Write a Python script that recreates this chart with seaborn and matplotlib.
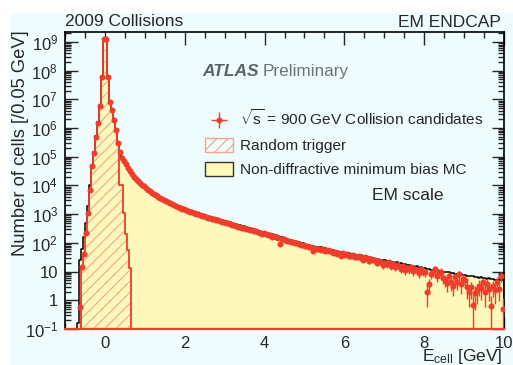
import numpy as np
import pandas as pd
import matplotlib
matplotlib.use("Agg")
import matplotlib.pyplot as plt
import seaborn as sns
from matplotlib.patches import Patch, Rectangle
from matplotlib.ticker import MultipleLocator, LogLocator, FuncFormatter, NullFormatter

nan = np.nan

# binning of all histograms: 0.05 GeV from -1 to 10 GeV
x_min = -1.0
bin_width = 0.05

# log10(number of cells) per bin, one row per GeV (20 bins)
mc_log10 = [
    nan, nan, nan, nan, nan, nan, -0.80, 1.40, 1.80, 2.20, 2.70, 3.30, 4.00, 4.70, 5.15, 5.72, 6.20, 6.80, 7.80, 9.10,
    9.10, 7.82, 6.95, 6.66, 6.30, 5.95, 5.50, 5.20, 4.98, 4.88, 4.77, 4.64, 4.52, 4.42, 4.34, 4.27, 4.20, 4.13, 4.06, 4.00,
    3.94, 3.88, 3.83, 3.78, 3.74, 3.70, 3.65, 3.61, 3.57, 3.53, 3.50, 3.46, 3.43, 3.39, 3.36, 3.33, 3.30, 3.27, 3.24, 3.21,
    3.18, 3.16, 3.13, 3.11, 3.08, 3.06, 3.04, 3.01, 2.99, 2.97, 2.95, 2.93, 2.91, 2.89, 2.87, 2.85, 2.83, 2.81, 2.79, 2.77,
    2.75, 2.73, 2.71, 2.69, 2.67, 2.65, 2.63, 2.61, 2.59, 2.57, 2.55, 2.53, 2.51, 2.49, 2.47, 2.45, 2.43, 2.41, 2.39, 2.37,
    2.35, 2.34, 2.31, 2.30, 2.27, 2.26, 2.23, 2.22, 2.19, 2.18, 2.15, 2.14, 2.11, 2.10, 2.07, 2.06, 2.03, 2.02, 1.99, 1.98,
    1.96, 1.93, 1.93, 1.90, 1.90, 1.87, 1.87, 1.84, 1.84, 1.81, 1.82, 1.78, 1.78, 1.75, 1.76, 1.72, 1.72, 1.69, 1.69, 1.66,
    1.66, 1.63, 1.64, 1.60, 1.61, 1.58, 1.58, 1.55, 1.56, 1.52, 1.53, 1.50, 1.50, 1.47, 1.48, 1.44, 1.45, 1.42, 1.42, 1.39,
    1.39, 1.37, 1.37, 1.34, 1.34, 1.31, 1.32, 1.28, 1.29, 1.25, 1.26, 1.23, 1.23, 1.20, 1.21, 1.17, 1.18, 1.14, 1.15, 1.11,
    1.11, 1.09, 1.10, 1.06, 1.07, 1.04, 1.05, 1.02, 1.02, 0.99, 1.00, 0.97, 0.98, 0.94, 0.95, 0.92, 0.93, 0.90, 0.90, 0.87,
    0.88, 0.85, 0.86, 0.83, 0.84, 0.81, 0.82, 0.79, 0.80, 0.77, 0.78, 0.75, 0.76, 0.73, 0.74, 0.71, 0.72, 0.70, 0.71, 0.69,
]

data_log10 = [
    nan, nan, nan, nan, nan, nan, nan, -0.22, 1.17, 1.60, 2.34, 3.04, 3.84, 4.66, 5.12, 5.70, 6.17, 6.77, 7.79, 9.09,
    9.09, 7.79, 6.92, 6.63, 6.28, 5.93, 5.48, 5.18, 4.96, 4.85, 4.74, 4.61, 4.49, 4.39, 4.31, 4.24, 4.17, 4.10, 4.03, 3.97,
    3.90, 3.84, 3.79, 3.73, 3.70, 3.65, 3.61, 3.56, 3.53, 3.48, 3.46, 3.41, 3.39, 3.35, 3.31, 3.29, 3.25, 3.23, 3.19, 3.17,
    3.13, 3.12, 3.08, 3.06, 3.04, 3.00, 3.00, 2.96, 2.93, 2.93, 2.90, 2.87, 2.86, 2.83, 2.82, 2.79, 2.78, 2.75, 2.74, 2.71,
    2.70, 2.68, 2.67, 2.62, 2.62, 2.60, 2.56, 2.56, 2.52, 2.53, 2.48, 2.48, 2.44, 2.45, 2.40, 2.40, 2.37, 2.36, 2.32, 2.33,
    2.30, 2.27, 2.28, 2.22, 2.24, 2.20, 2.17, 1.95, 2.15, 2.12, 2.10, 2.07, 2.08, 2.03, 2.02, 1.98, 2.00, 1.95, 1.94, 1.92,
    1.90, 1.88, 1.85, 1.87, 1.72, 1.82, 1.80, 1.79, 1.75, 1.78, 1.73, 1.74, 1.70, 1.71, 1.66, 1.68, 1.62, 1.66, 1.55, 1.63,
    1.58, 1.62, 1.53, 1.55, 1.57, 1.50, 1.52, 1.54, 1.48, 1.42, 1.50, 1.46, 1.38, 1.45, 1.42, 1.40, 1.30, 1.38, 1.34, 1.22,
    1.30, 1.25, 1.32, 1.18, 1.28, 1.15, 1.22, 1.20, 1.10, 1.18, 1.05, 1.12, 1.08, 1.15, 1.02, 1.10, 1.06, 0.95, 1.08, 1.00,
    0.98, 0.30, 0.55, 0.92, 0.97, 1.08, 0.85, 0.95, 1.00, 0.78, 0.72, 0.60, 0.85, 0.62, 0.50, 0.80, 0.65, 0.90, 0.55, 0.75,
    0.72, 0.45, 0.30, 0.45, -0.15, 0.25, 0.35, 0.50, 0.42, 0.62, 0.30, 0.55, 0.40, -0.20, 0.48, 0.35, 0.65, 0.40, 0.85, -0.30,
]

# random trigger: only non-empty from -0.6 to 0.65 GeV
rnd_first_edge = -0.6
rnd_log10 = [1.10, 1.60, 2.34, 3.04, 3.84, 4.66, 5.12, 5.70, 6.17, 6.77, 7.79, 9.09,
             9.09, 7.79, 6.92, 6.60, 6.25, 5.88, 5.45, 4.02, 4.02, 3.04, 2.30, 1.75, 1.13]

label_data = r"$\sqrt{\rm s}$ = 900 GeV Collision candidates"
label_rnd = "Random trigger"
label_mc = "Non-diffractive minimum bias MC"

bg = "#effcfd"
mc_yellow = "#fff8bb"
red = "#f03c2a"
hatch_col = "#f5a48e"
gray = "#6d7280"

sns.set_style("ticks")
plt.rcParams["font.family"] = ["Liberation Sans", "DejaVu Sans"]
plt.rcParams["mathtext.fontset"] = "custom"
plt.rcParams["mathtext.rm"] = "Liberation Sans"
plt.rcParams["mathtext.it"] = "Liberation Sans:italic"
plt.rcParams["mathtext.bf"] = "Liberation Sans:bold"
plt.rcParams["hatch.color"] = hatch_col
plt.rcParams["hatch.linewidth"] = 0.8

edges = x_min + bin_width * np.arange(len(mc_log10) + 1)
centers = edges[:-1] + bin_width / 2
mc = np.nan_to_num(10.0 ** np.array(mc_log10), nan=0.0)
data = 10.0 ** np.array(data_log10)
rnd_edges = rnd_first_edge + bin_width * np.arange(len(rnd_log10) + 1)
rnd = 10.0 ** np.array(rnd_log10)

df_mc = pd.DataFrame({"E": centers, "n": mc})
df_rnd = pd.DataFrame({"E": rnd_edges[:-1] + bin_width / 2, "n": rnd})

fig = plt.figure(figsize=(5.13, 3.65), dpi=100)
fig.patch.set_facecolor("white")
fig.patches.append(Rectangle((10 / 513, 0), 1 - 10 / 513, 1 - 13 / 365,
                             transform=fig.transFigure, facecolor=bg, edgecolor="none", zorder=-10))
ax = fig.add_axes([65 / 513, 1 - 329 / 365, (504 - 65) / 513, (329 - 32) / 365])
ax.set_facecolor(bg)
ax.set_yscale("log")

# MC (yellow, black outline)
sns.histplot(data=df_mc, x="E", weights="n", bins=edges.tolist(), element="step", fill=True,
             color=mc_yellow, facecolor=mc_yellow, edgecolor="black", linewidth=1.1, ax=ax, zorder=1)
# random trigger: hatch + red outline
sns.histplot(data=df_rnd, x="E", weights="n", bins=rnd_edges.tolist(), element="step", fill=True,
             color=hatch_col, facecolor="none", edgecolor=hatch_col, hatch="///", linewidth=0, ax=ax, zorder=2)
sns.histplot(data=df_rnd, x="E", weights="n", bins=rnd_edges.tolist(), element="step", fill=True,
             color=red, facecolor="none", edgecolor=red, linewidth=1.3, ax=ax, zorder=3)

# collision data points
ok = ~np.isnan(data)
eb = ax.errorbar(centers[ok], data[ok], xerr=bin_width / 2, yerr=np.sqrt(data[ok]),
                 fmt="o", ms=3.3, color=red, ecolor=red, elinewidth=1.0, capsize=0, zorder=5)

ax.set_xlim(-1, 10)
ax.set_ylim(0.1, 2.2e9)

ax.xaxis.set_major_locator(MultipleLocator(2))
ax.xaxis.set_minor_locator(MultipleLocator(0.5))
ax.yaxis.set_major_locator(LogLocator(base=10, numticks=20))
ax.yaxis.set_minor_locator(LogLocator(base=10, subs=np.arange(2, 10), numticks=20))
ax.yaxis.set_minor_formatter(NullFormatter())


def ylab(v, pos):
    e = int(round(np.log10(v)))
    if e == 0:
        return "1"
    if e == 1:
        return "10"
    return rf"$10^{{{e}}}$"


ax.yaxis.set_major_formatter(FuncFormatter(ylab))
ax.tick_params(which="both", direction="in", top=True, right=True, labelsize=12, width=1.0)
ax.tick_params(which="major", length=9, pad=5)
ax.tick_params(which="minor", length=4.5)
for s in ax.spines.values():
    s.set_linewidth(1.2)
    s.set_color("black")
ax.spines["bottom"].set_color(red)
ax.spines["bottom"].set_linewidth(1.6)

ax.set_xlabel(r"E$_{\rm cell}$ [GeV]", fontsize=12.5, loc="right")
ax.xaxis.set_label_coords(0.997, -0.06)
ax.set_ylabel("Number of cells [/0.05 GeV]", fontsize=13.2, loc="top")
ax.yaxis.set_label_coords(-0.082, 1.007)

ax.legend([eb, Patch(facecolor="none", edgecolor=hatch_col, hatch="///", linewidth=1.0),
           Patch(facecolor=mc_yellow, edgecolor="#333333", linewidth=1.0)],
          [label_data, label_rnd, label_mc],
          loc="upper left", bbox_to_anchor=(205 / 513, 1 - 109 / 365), bbox_transform=fig.transFigure,
          frameon=False, fontsize=11.1, handlelength=1.8, handleheight=0.95, handletextpad=0.45,
          labelspacing=0.6, borderpad=0, borderaxespad=0)

fig.text(202 / 513, 1 - 71.5 / 365, "ATLAS", fontsize=12.5, fontweight="bold", style="italic",
         color="#5c616c", va="center", ha="left")
fig.text(263 / 513, 1 - 71.5 / 365, "Preliminary", fontsize=12.3, color=gray, va="center", ha="left")
fig.text(372 / 513, 1 - 195 / 365, "EM scale", fontsize=12.5, va="center", ha="left")
fig.text(65 / 513, 1 - 21.5 / 365, "2009 Collisions", fontsize=12.5, va="center", ha="left")
fig.text(501 / 513, 1 - 22.5 / 365, "EM ENDCAP", fontsize=12.5, va="center", ha="right")

fig.savefig("out.png", dpi=100)
